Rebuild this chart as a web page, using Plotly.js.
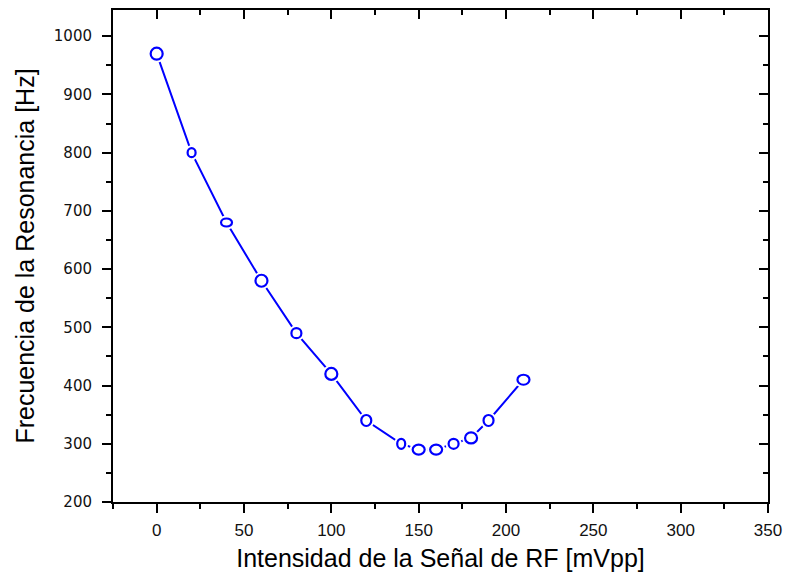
<!DOCTYPE html>
<html>
<head>
<meta charset="utf-8">
<script src="https://cdn.plot.ly/plotly-3.0.1.min.js"></script>
<style>html,body{margin:0;padding:0;background:#fff;}#chart{width:786px;height:580px;}</style>
</head>
<body>
<div id="chart"></div>
<script>
// Data
const intensidad = [0, 20, 40, 60, 80, 100, 120, 140, 150, 160, 170, 180, 190, 210];   // mVpp
const frecuencia = [970, 800, 680, 580, 490, 420, 340, 300, 290, 290, 300, 310, 340, 410]; // Hz

// Marker ellipse sizes (style, pixels, outer)
const markerW = [14, 10, 13, 14, 12, 14, 12, 10, 14, 14, 12, 14, 12, 14];
const markerH = [14, 11, 10, 14, 12, 14, 13, 12, 12, 12, 12, 13, 13, 12];

const blue = '#0000FF';
const shapes = [];
intensidad.forEach((xv, i) => {
  const yv = frecuencia[i];
  const w = markerW[i], h = markerH[i];
  // white halo to create the small gap between line and marker
  shapes.push({type:'circle', xref:'x', yref:'y', xsizemode:'pixel', ysizemode:'pixel',
    xanchor:xv, yanchor:yv, x0:-(w/2+2), x1:(w/2+2), y0:-(h/2+2), y1:(h/2+2),
    fillcolor:'#ffffff', line:{width:0}, layer:'above'});
  shapes.push({type:'circle', xref:'x', yref:'y', xsizemode:'pixel', ysizemode:'pixel',
    xanchor:xv, yanchor:yv, x0:-(w-2)/2, x1:(w-2)/2, y0:-(h-2)/2, y1:(h-2)/2,
    fillcolor:'#ffffff', line:{color:blue, width:2.2}, layer:'above'});
});

const traces = [
  {x: intensidad, y: frecuencia, type:'scatter', mode:'lines',
   line:{color:blue, width:2}, hoverinfo:'x+y', showlegend:false},
  {x: [], y: [], xaxis:'x2', yaxis:'y2', type:'scatter', mode:'markers', showlegend:false}
];

const tickFontX = {family:'"Liberation Sans", Arial, sans-serif', size:17, color:'#111'};
const tickFontY = {family:'"DejaVu Sans", Arial, sans-serif', size:15, color:'#111'};
const titleFont = {family:'"Liberation Sans", Arial, sans-serif', size:25, color:'#000'};

const layout = {
  width:786, height:580,
  margin:{l:113, r:18, t:10, b:78},
  paper_bgcolor:'#fff', plot_bgcolor:'#fff',
  showlegend:false,
  xaxis:{
    range:[-25, 350], tickmode:'linear', tick0:0, dtick:50,
    ticks:'outside', ticklen:9, tickwidth:2, tickcolor:'#000',
    minor:{ticks:'outside', dtick:25, tick0:0, ticklen:5, tickwidth:2, tickcolor:'#000', showgrid:false},
    showline:true, linewidth:2, linecolor:'#000', mirror:true,
    showgrid:false, zeroline:false,
    tickfont:tickFontX, ticklabelstandoff:3,
    title:{text:'Intensidad de la Señal de RF [mVpp]', font:titleFont, standoff:10}
  },
  yaxis:{
    range:[200, 1045], tickmode:'linear', tick0:200, dtick:100,
    ticks:'outside', ticklen:9, tickwidth:2, tickcolor:'#000',
    minor:{ticks:'outside', dtick:50, tick0:200, ticklen:5, tickwidth:2, tickcolor:'#000', showgrid:false},
    showline:true, linewidth:2, linecolor:'#000', mirror:true,
    showgrid:false, zeroline:false,
    tickfont:tickFontY, ticklabelstandoff:7,
    title:{text:'Frecuencia de la Resonancia [Hz]', font:titleFont, standoff:12}
  },
  xaxis2:{
    overlaying:'x', side:'top', anchor:'y', range:[-25, 350], tickmode:'linear', tick0:0, dtick:50,
    ticks:'inside', ticklen:9, tickwidth:2, tickcolor:'#000', showticklabels:false,
    minor:{ticks:'inside', dtick:25, tick0:0, ticklen:5, tickwidth:2, tickcolor:'#000', showgrid:false},
    showline:false, showgrid:false, zeroline:false
  },
  yaxis2:{
    overlaying:'y', side:'right', anchor:'x', range:[200, 1045], tickmode:'linear', tick0:200, dtick:100,
    ticks:'inside', ticklen:9, tickwidth:2, tickcolor:'#000', showticklabels:false,
    minor:{ticks:'inside', dtick:50, tick0:200, ticklen:5, tickwidth:2, tickcolor:'#000', showgrid:false},
    showline:false, showgrid:false, zeroline:false
  },
  shapes: shapes
};

Plotly.newPlot('chart', traces, layout, {displayModeBar:false, staticPlot:true});
</script>
</body>
</html>
